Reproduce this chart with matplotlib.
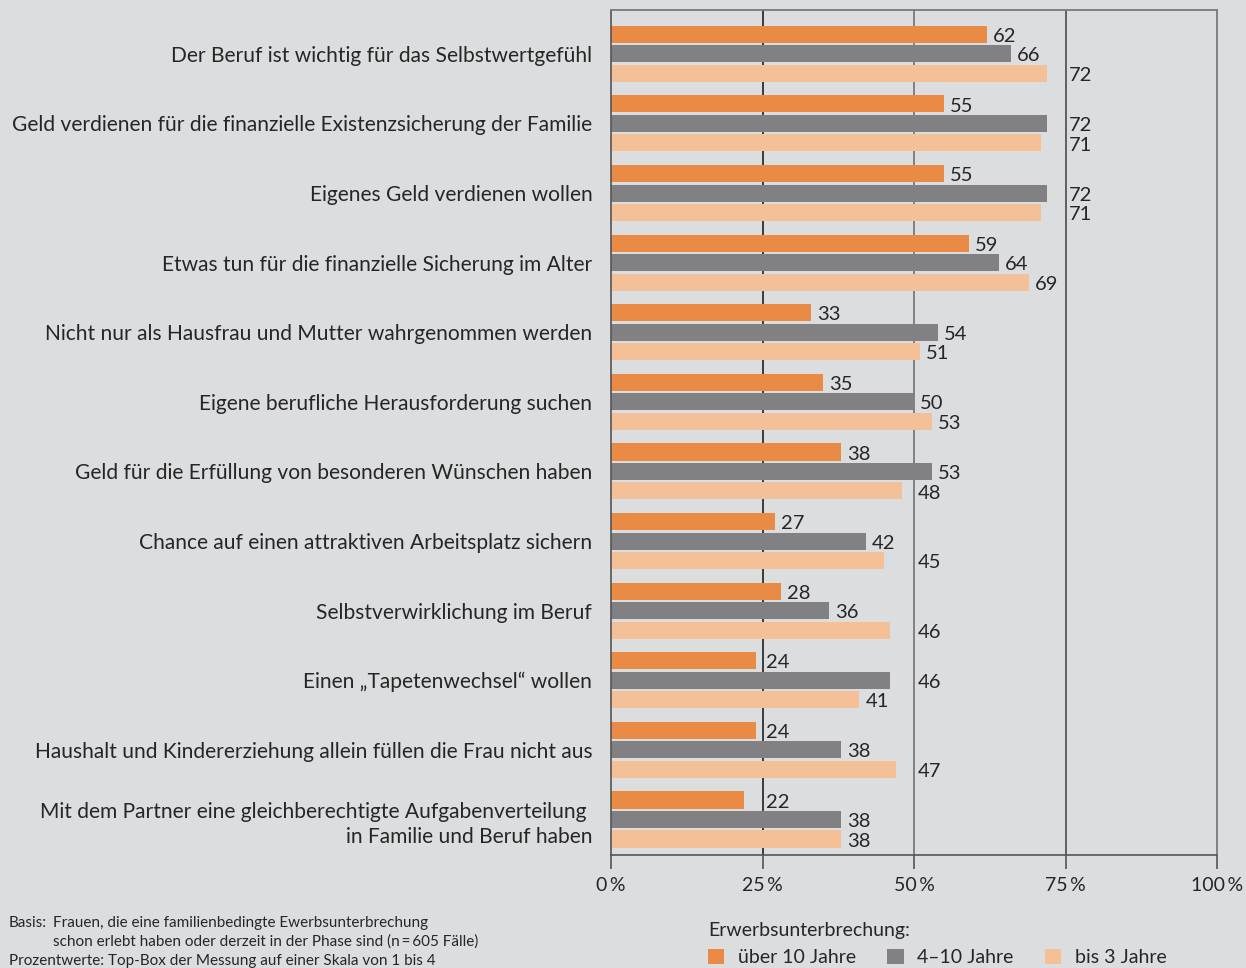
import numpy as np
import matplotlib
matplotlib.use("Agg")
import matplotlib.pyplot as plt
from matplotlib.patches import Patch

plt.rcParams['font.family'] = ['Lato', 'DejaVu Sans']

# motives for going back to work, share in percent per length of the break
categories = [
    "Der Beruf ist wichtig für das Selbstwertgefühl",
    "Geld verdienen für die finanzielle Existenzsicherung der Familie",
    "Eigenes Geld verdienen wollen",
    "Etwas tun für die finanzielle Sicherung im Alter",
    "Nicht nur als Hausfrau und Mutter wahrgenommen werden",
    "Eigene berufliche Herausforderung suchen",
    "Geld für die Erfüllung von besonderen Wünschen haben",
    "Chance auf einen attraktiven Arbeitsplatz sichern",
    "Selbstverwirklichung im Beruf",
    "Einen \u201eTapetenwechsel\u201c wollen",
    "Haushalt und Kindererziehung allein füllen die Frau nicht aus",
    "Mit dem Partner eine gleichberechtigte Aufgabenverteilung \nin Familie und Beruf haben",
]
ueber_10 = [62, 55, 55, 59, 33, 35, 38, 27, 28, 24, 24, 22]
jahre_4_10 = [66, 72, 72, 64, 54, 50, 53, 42, 36, 46, 38, 38]
bis_3 = [72, 71, 71, 69, 51, 53, 48, 45, 46, 41, 47, 38]

series_names = ["über 10 Jahre", "4\u201310 Jahre", "bis 3 Jahre"]
colors = ["#e98a45", "#818184", "#f4c097"]
x_ticks = [0, 25, 50, 75, 100]
x_ticklabels = ["0\u2009%", "25\u2009%", "50\u2009%", "75\u2009%", "100\u2009%"]

bg = "#dcdddf"
txt = "#262626"

fig = plt.figure(figsize=(12.46, 9.68), dpi=100, facecolor=bg)
ax = fig.add_axes([611 / 1246, 1 - 855 / 968, 606 / 1246, 845 / 968])
ax.set_facecolor(bg)

y = np.arange(len(categories))
step = 0.28
height = 0.245

# vertical guides behind the bars
grid_colors = {25: "#2e2e2e", 50: "#7a7a7a", 75: "#555555"}
for g, c in grid_colors.items():
    ax.axvline(g, color=c, lw=1.3, zorder=1)

for k, vals in enumerate([ueber_10, jahre_4_10, bis_3]):
    pos = y + (k - 1) * step
    ax.barh(pos, vals, height=height, color=colors[k], zorder=2)
    for p, v in zip(pos, vals):
        # push labels past a guide line if they would sit on it
        lx = v + 1.0
        for g in grid_colors:
            if v < g and g - v <= 5.5:
                lx = g + 0.6
        ax.text(lx, p + 0.03, str(v), ha="left", va="center",
                fontsize=14.5, color=txt, zorder=3)

ax.set_xlim(0, 100)
ax.set_ylim(len(categories) - 1 + 0.51, -0.63)
ax.set_xticks(x_ticks)
ax.set_xticklabels(x_ticklabels, fontsize=14, color=txt)
ax.tick_params(axis="x", length=10, width=1.2, color="#555555", pad=6)
ax.set_yticks(y)
ax.set_yticklabels(categories, fontsize=15.1, color=txt)
ax.tick_params(axis="y", length=0, pad=13.5)
for lab in ax.get_yticklabels():
    lab.set_horizontalalignment("right")
    lab.set_multialignment("right")
    lab.set_linespacing(1.35)

for side in ["left", "bottom"]:
    ax.spines[side].set_color("#555555")
    ax.spines[side].set_linewidth(1.2)
for side in ["top", "right"]:
    ax.spines[side].set_color("#7a7a7a")
    ax.spines[side].set_linewidth(1.3)

handles = [Patch(facecolor=c, edgecolor="none") for c in colors]
leg = fig.legend(handles, series_names, loc="upper left",
                 bbox_to_anchor=(700 / 1246, 1 - 914 / 968), ncol=3,
                 frameon=False, fontsize=14, title="Erwerbsunterbrechung:",
                 title_fontsize=14, alignment="left", handlelength=0.85,
                 handleheight=0.85, handletextpad=0.7, columnspacing=1.6,
                 labelcolor=txt, borderaxespad=0)
leg.get_title().set_color(txt)

fs_note = 11
fig.text(9 / 1246, 1 - 923 / 968, "Basis:", fontsize=fs_note, color=txt, va="center")
fig.text(53 / 1246, 1 - 923 / 968,
         "Frauen, die eine familienbedingte Ewerbsunterbrechung",
         fontsize=fs_note, color=txt, va="center")
fig.text(53 / 1246, 1 - 942 / 968,
         "schon erlebt haben oder derzeit in der Phase sind (n\u2009=\u2009605 Fälle)",
         fontsize=fs_note, color=txt, va="center")
fig.text(9 / 1246, 1 - 961 / 968,
         "Prozentwerte: Top-Box der Messung auf einer Skala von 1 bis 4",
         fontsize=fs_note, color=txt, va="center")

fig.savefig("out.png", dpi=100, facecolor=bg)
